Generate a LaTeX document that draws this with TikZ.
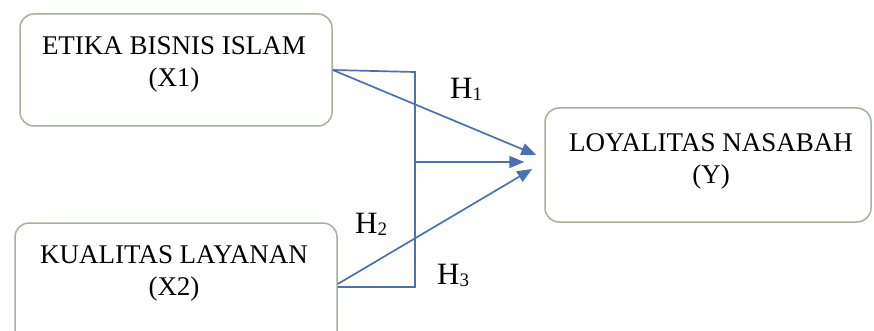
\documentclass[tikz,border=0pt]{standalone}
\usepackage{fontspec}
\setmainfont{Liberation Serif}
\usetikzlibrary{arrows.meta}
\definecolor{boxline}{HTML}{A4B397}
\definecolor{arrowblue}{HTML}{4A70B5}
\tikzset{
  varbox/.style={draw=boxline, line width=1.5pt, rounded corners=14pt, fill=white, inner sep=0pt},
  boxtext/.style={align=center, font=\fontsize{27}{32}\selectfont, inner sep=0pt, anchor=base},
  hyp/.style={font=\fontsize{31}{31}\selectfont, inner sep=0pt, anchor=base west},
  link/.style={draw=arrowblue, line width=1.7pt},
  arr/.style={link, -{Triangle[length=15pt,width=12pt]}},
}
\newcommand{\hsub}[1]{H\raisebox{-2pt}{\fontsize{19}{19}\selectfont #1}}
\begin{document}
\begin{tikzpicture}[x=1pt,y=-1pt]
  \clip (0,0) rectangle (874,331);
  \fill[white] (0,0) rectangle (874,331);
  % variable boxes
  \node[varbox, minimum width=312pt, minimum height=112pt] (x1) at (176,70) {};
  \node[varbox, minimum width=322pt, minimum height=122pt] (x2) at (176,284) {};
  \node[varbox, minimum width=326pt, minimum height=114pt] (y) at (708,165) {};
  % box captions (anchored on the baseline of the last line)
  \node[boxtext] (x1t) at (174,87) {ETIKA BISNIS ISLAM\\(X1)};
  \node[boxtext] (x2t) at (174,295) {KUALITAS LAYANAN\\(X2)};
  \node[boxtext] (yt) at (711,183) {LOYALITAS NASABAH\\(Y)};
  % bracket joining both predictors
  \coordinate (jt) at (415,72);
  \coordinate (jm) at (415,162);
  \coordinate (jb) at (415,287);
  \draw[link] (x1.east) -- (jt) -- (jb) -- ([yshift=-3pt]x2.east);
  % hypothesis arrows
  \draw[arr] (x1.east) -- ([xshift=-8pt,yshift=10pt]y.west);
  \draw[arr] (jm) -- ([xshift=-20pt,yshift=3pt]y.west);
  \draw[arr] (x2.east) -- ([xshift=-12pt,yshift=-4pt]y.west);
  % hypothesis labels
  \node[hyp] (h1) at (450,99) {\hsub{1}};
  \node[hyp] (h2) at (355,233) {\hsub{2}};
  \node[hyp] (h3) at (437,284) {\hsub{3}};
\end{tikzpicture}
\end{document}
